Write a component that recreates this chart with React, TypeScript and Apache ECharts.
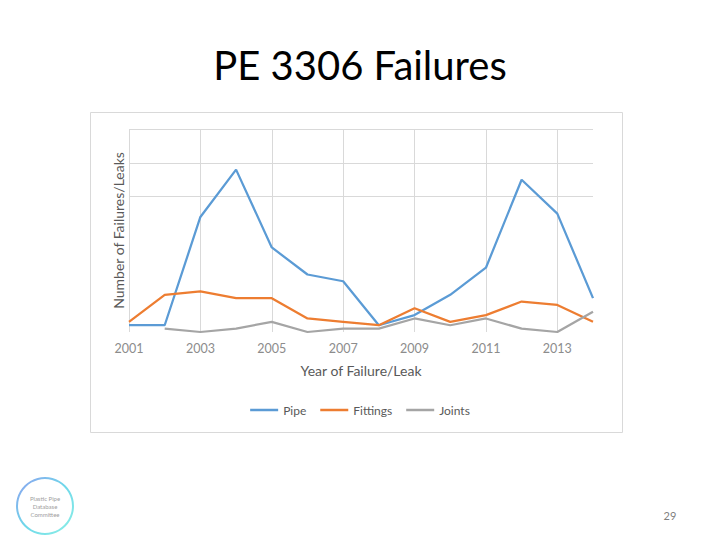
import React, { useEffect, useRef } from "react";
import * as echarts from "echarts";

const years = ["2001", "2002", "2003", "2004", "2005", "2006", "2007", "2008", "2009", "2010", "2011", "2012", "2013", "2014"];
const pipe = [2, 2, 34, 48, 25, 17, 15, 2, 5, 11, 19, 45, 35, 10];
const fittings = [3, 11, 12, 10, 10, 4, 3, 2, 7, 3, 5, 9, 8, 3];
const joints: (number | null)[] = [null, 1, 0, 1, 3, 0, 1, 1, 4, 2, 4, 1, 0, 6];
const seriesNames = ["Pipe", "Fittings", "Joints"];
const seriesColors = ["#5b9bd5", "#ed7d31", "#a5a5a5"];

const FONT = "Lato, 'Open Sans', sans-serif";

export default function App() {
  const ref = useRef<HTMLDivElement>(null);
  useEffect(() => {
    if (!ref.current) return;
    const chart = echarts.init(ref.current, undefined, { renderer: "svg" });
    const T = "rgba(0,0,0,0)";
    const G = "#d9d9d9";
    chart.setOption({
      animation: false,
      backgroundColor: "#ffffff",
      textStyle: { fontFamily: FONT },
      grid: { left: 129, right: 127, top: 129, bottom: 208, containLabel: false },
      legend: {
        data: seriesNames,
        top: 399,
        left: "center",
        icon: "rect",
        itemWidth: 28,
        itemHeight: 2.5,
        itemGap: 14,
        textStyle: { color: "#595959", fontSize: 12, fontFamily: FONT },
      },
      xAxis: {
        type: "category",
        data: years,
        boundaryGap: false,
        axisLine: { show: false },
        axisTick: { show: false },
        axisLabel: { interval: 1, color: "#8c8c8c", fontSize: 12.5, margin: 10, fontFamily: FONT },
        splitLine: { show: true, interval: 1, lineStyle: { color: G, width: 1 } },
        name: "Year of Failure/Leak",
        nameLocation: "middle",
        nameGap: 31,
        nameTextStyle: { color: "#595959", fontSize: 14, fontFamily: FONT },
      },
      yAxis: {
        type: "value",
        min: 0,
        max: 60,
        interval: 10,
        axisLine: { show: false },
        axisTick: { show: false },
        axisLabel: { show: false },
        splitLine: { show: true, lineStyle: { color: [T, T, T, T, G, G, G], width: 1 } },
        name: "Number of Failures/Leaks",
        nameLocation: "middle",
        nameGap: 4,
        nameTextStyle: { color: "#595959", fontSize: 14, fontFamily: FONT },
      },
      series: [
        { name: seriesNames[0], type: "line", data: pipe, symbol: "none", color: seriesColors[0], lineStyle: { width: 2.25, color: seriesColors[0] } },
        { name: seriesNames[1], type: "line", data: fittings, symbol: "none", color: seriesColors[1], lineStyle: { width: 2.25, color: seriesColors[1] } },
        { name: seriesNames[2], type: "line", data: joints, symbol: "none", color: seriesColors[2], lineStyle: { width: 2.25, color: seriesColors[2] } },
      ],
      graphic: [
        {
          type: "rect",
          silent: true,
          shape: { x: 90.5, y: 112.5, width: 532, height: 320 },
          style: { fill: "none", stroke: "#d9d9d9", lineWidth: 1 },
        },
        {
          type: "text",
          silent: true,
          style: { x: 360, y: 65, text: "PE 3306 Failures", textAlign: "center", textVerticalAlign: "middle", fontSize: 40, fontFamily: FONT, fill: "#000000" },
        },
        {
          type: "text",
          silent: true,
          style: { x: 670, y: 515, text: "29", textAlign: "center", textVerticalAlign: "middle", fontSize: 11, fontFamily: FONT, fill: "#7f7f7f" },
        },
        {
          type: "ring",
          silent: true,
          shape: { cx: 45, cy: 506, r: 29, r0: 27 },
          style: {
            fill: new echarts.graphic.LinearGradient(0, 0, 1, 1, [
              { offset: 0, color: "#8e9ff0" },
              { offset: 0.5, color: "#6fd8ea" },
              { offset: 1, color: "#8ef0e6" },
            ]),
          },
        },
        {
          type: "text",
          silent: true,
          style: { x: 45, y: 506, text: "Plastic Pipe\nDatabase\nCommittee", textAlign: "center", textVerticalAlign: "middle", fontSize: 6, lineHeight: 8, fontFamily: FONT, fill: "#a0a0a0" },
        },
      ],
    });
    return () => chart.dispose();
  }, []);
  return <div ref={ref} style={{ position: "fixed", left: 0, top: 0, width: 720, height: 540 }} />;
}
